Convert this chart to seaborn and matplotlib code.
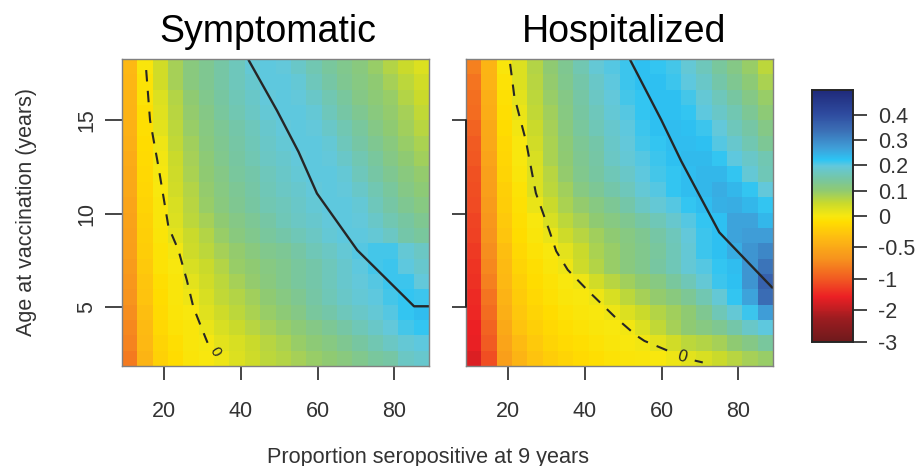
"""Symptomatic / Hospitalized heatmaps with contours and a shared non-linear colour bar."""
import matplotlib.pyplot as plt
import numpy as np
import seaborn as sns
from matplotlib.colors import FuncNorm, LinearSegmentedColormap

seropositive = [11, 15, 19, 23, 27, 31, 35, 39, 43, 47, 51, 55, 59, 63, 67, 71, 75, 79, 83, 87]
age_rows = [17.84, 17.02, 16.2, 15.38, 14.56, 13.74, 12.92, 12.1, 11.28, 10.46,
            9.64, 8.82, 8.0, 7.18, 6.36, 5.54, 4.72, 3.9, 3.08, 2.26]

symptomatic = [
    [-.38, -.03, .04, .08, .11, .13, .15, .17, .19, .20, .195, .18, .16, .14, .125, .11, .09, .07, .05, .03],
    [-.39, -.05, .04, .08, .11, .13, .15, .17, .185, .20, .20, .19, .17, .15, .13, .115, .10, .08, .06, .04],
    [-.40, -.06, .03, .07, .10, .125, .145, .165, .18, .195, .20, .195, .18, .16, .14, .12, .105, .09, .07, .05],
    [-.42, -.08, .025, .065, .095, .12, .14, .16, .175, .19, .20, .20, .19, .17, .15, .13, .11, .095, .08, .055],
    [-.44, -.09, .02, .06, .09, .115, .135, .155, .17, .185, .195, .20, .195, .18, .16, .14, .12, .10, .085, .065],
    [-.46, -.1, .01, .055, .085, .11, .13, .15, .165, .18, .19, .20, .20, .19, .17, .15, .13, .11, .09, .075],
    [-.48, -.12, .005, .05, .08, .105, .125, .145, .16, .175, .185, .195, .20, .195, .18, .16, .14, .12, .10, .085],
    [-.50, -.13, 0, .045, .075, .10, .12, .14, .155, .17, .18, .19, .20, .20, .19, .17, .15, .13, .11, .095],
    [-.52, -.15, -.005, .04, .07, .095, .115, .135, .15, .165, .175, .185, .195, .20, .195, .18, .16, .14, .12, .105],
    [-.54, -.17, -.02, .035, .065, .09, .11, .13, .145, .16, .17, .18, .19, .20, .20, .19, .17, .15, .13, .115],
    [-.56, -.18, -.03, .03, .06, .08, .10, .12, .135, .15, .165, .175, .185, .195, .20, .195, .18, .16, .145, .13],
    [-.58, -.2, -.04, .02, .05, .07, .09, .11, .125, .14, .155, .165, .175, .19, .20, .20, .19, .175, .155, .14],
    [-.60, -.22, -.05, .005, .045, .06, .08, .095, .11, .125, .135, .15, .165, .175, .19, .205, .21, .21, .19, .175],
    [-.62, -.25, -.06, -.01, .035, .05, .07, .09, .10, .115, .125, .14, .155, .17, .185, .20, .21, .215, .20, .185],
    [-.65, -.28, -.08, -.02, .02, .04, .06, .08, .095, .11, .125, .14, .155, .17, .185, .195, .205, .215, .215, .195],
    [-.68, -.3, -.1, -.03, .01, .035, .055, .07, .085, .10, .115, .13, .15, .165, .18, .19, .20, .21, .22, .215],
    [-.71, -.33, -.12, -.04, -.01, .025, .045, .06, .075, .09, .105, .12, .14, .155, .17, .18, .19, .205, .22, .23],
    [-.74, -.36, -.14, -.06, -.02, .015, .035, .05, .065, .08, .09, .105, .12, .135, .15, .165, .18, .195, .21, .22],
    [-.78, -.38, -.16, -.08, -.03, .0, .02, .035, .05, .065, .075, .09, .105, .115, .13, .145, .16, .175, .19, .20],
    [-.82, -.40, -.18, -.1, -.04, -.01, .01, .03, .045, .06, .07, .08, .09, .10, .11, .125, .14, .15, .175, .185],
]

hospitalized = [
    [-.8, -.4, -.03, .03, .07, .10, .13, .16, .19, .205, .215, .225, .22, .21, .19, .17, .14, .12, .09, .06],
    [-.85, -.42, -.05, .03, .065, .095, .125, .155, .18, .20, .215, .225, .225, .215, .20, .18, .155, .13, .105, .075],
    [-.88, -.45, -.07, .02, .06, .09, .12, .15, .175, .195, .21, .22, .225, .225, .21, .19, .17, .145, .12, .09],
    [-.9, -.47, -.09, .015, .055, .085, .115, .145, .17, .19, .205, .22, .225, .225, .22, .20, .18, .16, .135, .105],
    [-.95, -.5, -.11, .005, .05, .08, .11, .14, .165, .185, .20, .215, .225, .23, .225, .215, .195, .17, .15, .12],
    [-1, -.52, -.13, -.005, .04, .075, .105, .135, .155, .18, .195, .21, .22, .23, .23, .225, .205, .185, .16, .135],
    [-1.03, -.55, -.15, -.015, .035, .075, .10, .13, .15, .175, .19, .205, .215, .225, .235, .235, .22, .20, .18, .16],
    [-1.07, -.58, -.17, -.03, .03, .065, .095, .125, .145, .165, .18, .20, .21, .22, .23, .24, .24, .22, .19, .165],
    [-1.1, -.6, -.2, -.05, .03, .06, .085, .115, .135, .155, .17, .19, .205, .22, .23, .24, .25, .24, .22, .195],
    [-1.15, -.62, -.22, -.07, .015, .05, .075, .095, .115, .135, .155, .175, .19, .205, .22, .23, .245, .25, .24, .22],
    [-1.2, -.65, -.25, -.09, -.01, .035, .06, .08, .10, .115, .13, .15, .165, .185, .205, .22, .225, .26, .26, .24],
    [-1.25, -.68, -.28, -.11, -.03, .015, .045, .065, .085, .10, .115, .13, .15, .17, .195, .215, .225, .26, .27, .27],
    [-1.3, -.72, -.32, -.14, -.06, -.01, .02, .05, .075, .09, .11, .125, .14, .165, .19, .215, .225, .25, .28, .30],
    [-1.35, -.75, -.35, -.17, -.08, -.03, .01, .045, .07, .09, .11, .125, .145, .165, .19, .205, .22, .23, .28, .33],
    [-1.4, -.8, -.38, -.2, -.1, -.05, -.01, .01, .04, .065, .085, .10, .115, .14, .165, .19, .215, .225, .28, .36],
    [-1.45, -.85, -.42, -.23, -.13, -.07, -.03, -.005, .01, .035, .06, .08, .095, .11, .135, .16, .19, .22, .26, .34],
    [-1.5, -.9, -.46, -.26, -.16, -.1, -.05, -.02, -.005, .01, .03, .05, .07, .085, .10, .13, .165, .19, .215, .27],
    [-1.55, -.95, -.5, -.3, -.2, -.13, -.08, -.05, -.02, -.005, .005, .03, .055, .08, .10, .115, .13, .155, .18, .20],
    [-1.6, -1.0, -.55, -.35, -.24, -.17, -.12, -.08, -.05, -.03, -.01, .005, .02, .04, .06, .07, .08, .10, .12, .14],
    [-1.7, -1.1, -.6, -.4, -.3, -.22, -.17, -.12, -.09, -.06, -.04, -.02, -.005, .01, .02, .035, .05, .065, .08, .09],
]

# contour lines
sym_zero_x = [15.3, 16.3, 18.5, 21.1, 23.7, 25.9, 27.6, 30.7, 31.3]
sym_zero_y = [17.67, 15, 12.5, 9.3, 8.05, 6.44, 5.0, 3.4, 3.1]
sym_line_x = [42, 49.4, 55, 59.8, 70.3, 85.1, 89]
sym_line_y = [18.2, 15.5, 13.3, 11.08, 8.05, 5.05, 5.05]
hosp_zero_x = [20.5, 21.6, 24.6, 27.2, 30.7, 32.5, 35.5, 40.7, 47.7, 53.3, 55.5, 62.5]
hosp_zero_y = [18.0, 16.25, 13.9, 11.1, 9.1, 8, 7, 5.9, 4.5, 3.5, 3.2, 2.6]
hosp_zero_tail_x = [68.6, 70.7]
hosp_zero_tail_y = [2.15, 2.05]
hosp_line_x = [51.8, 59.9, 65.1, 75, 88.8]
hosp_line_y = [18.2, 15, 12.8, 9, 6.05]

cbar_ticks = [-3, -2, -1, -0.5, 0, 0.1, 0.2, 0.3, 0.4]
cbar_labels = ["-3", "-2", "-1", "-0.5", "0", "0.1", "0.2", "0.3", "0.4"]
scale_values = [-3, -2, -1, -0.5, 0, 0.1, 0.2, 0.3, 0.4, 0.5]
scale_pos = [0, 0.127, 0.25, 0.377, 0.5, 0.6, 0.702, 0.802, 0.9, 1.0]

X_EDGE = 9.0
X_STEP = 4.0
Y_TOP = 18.26
Y_STEP = 0.82
DARK = "#262626"
GREY = "#808080"
TEXT = "#333333"


def cell_x(v):
    return (np.asarray(v) - X_EDGE) / X_STEP


def cell_y(v):
    return (Y_TOP - np.asarray(v)) / Y_STEP


def px_axes(fig, left, top, right, bottom):
    W, H = 916, 466
    return fig.add_axes([left / W, 1 - bottom / H, (right - left) / W, (bottom - top) / H])


sns.set_theme(style="white")
plt.rcParams["font.family"] = ["Liberation Sans", "DejaVu Sans"]

cmap = LinearSegmentedColormap.from_list("risk", [
    (0.0, "#6e1a1c"), (0.09, "#9c1c20"), (0.18, "#ec2024"), (0.25, "#f15a22"),
    (0.33, "#f7941d"), (0.41, "#fdb913"), (0.476, "#ffdd00"), (0.5, "#f7e80f"),
    (0.55, "#c9da2c"), (0.60, "#8fca72"), (0.65, "#76c6a4"), (0.70, "#62c8dc"),
    (0.725, "#2cc4f4"), (0.77, "#3f9fd8"), (0.84, "#3b6eb5"), (0.91, "#2e4a9e"),
    (1.0, "#1f2a7a"),
])
norm = FuncNorm(
    (lambda v: np.interp(v, scale_values, scale_pos),
     lambda p: np.interp(p, scale_pos, scale_values)),
    vmin=-3, vmax=0.5,
)

fig = plt.figure(figsize=(9.16, 4.66), dpi=100)
ax_sym = px_axes(fig, 122, 59, 429, 366)
ax_hosp = px_axes(fig, 466, 59, 773, 366)
ax_cbar = px_axes(fig, 812, 90, 853, 342)

sns.heatmap(np.array(symptomatic), ax=ax_sym, cmap=cmap, norm=norm, cbar=True, cbar_ax=ax_cbar,
            xticklabels=False, yticklabels=False)
sns.heatmap(np.array(hospitalized), ax=ax_hosp, cmap=cmap, norm=norm, cbar=False,
            xticklabels=False, yticklabels=False)

for ax, title, title_x in [(ax_sym, "Symptomatic", 0.476), (ax_hosp, "Hospitalized", 0.515)]:
    ax.set_title(title, fontsize=27, color="black", pad=12, x=title_x)
    ax.set_xticks(cell_x([20, 40, 60, 80]), ["20", "40", "60", "80"])
    ax.set_yticks(cell_y([5, 10, 15]))
    ax.tick_params(axis="x", length=10, width=1.2, color=DARK, labelsize=15.5, labelcolor=TEXT, pad=15, bottom=True)
    for spine in ax.spines.values():
        spine.set_visible(True)
        spine.set_color(GREY)
        spine.set_linewidth(1.0)

ax_sym.tick_params(axis="y", length=12, width=1.2, color=DARK, pad=6, left=True)
ax_sym.set_yticklabels(["5", "10", "15"], rotation=90, va="center", fontsize=15.5, color=TEXT)
ax_sym.set_ylabel("Age at vaccination (years)", fontsize=15.5, color=TEXT, labelpad=28)
ax_hosp.tick_params(axis="y", length=10, width=1.2, color=DARK, left=True)
ax_hosp.set_yticklabels([])
ax_hosp.plot([0, 0], cell_y([5, 15]), color=DARK, lw=1.4, clip_on=False, zorder=5)

line_kw = dict(color=DARK, lw=1.7)
dash_kw = dict(color=DARK, lw=1.5, dashes=(5.5, 4.5))
ax_sym.plot(cell_x(sym_zero_x), cell_y(sym_zero_y), **dash_kw)
ax_sym.plot(cell_x(sym_line_x), cell_y(sym_line_y), **line_kw)
ax_hosp.plot(cell_x(hosp_zero_x), cell_y(hosp_zero_y), **dash_kw)
ax_hosp.plot(cell_x(hosp_zero_tail_x), cell_y(hosp_zero_tail_y), **dash_kw)
ax_hosp.plot(cell_x(hosp_line_x), cell_y(hosp_line_y), **line_kw)
ax_sym.text(cell_x(33.3), cell_y(2.6), "0", fontsize=11, rotation=-60, color=DARK, ha="center", va="center")
ax_hosp.text(cell_x(65.4), cell_y(2.35), "0", fontsize=12, rotation=-15, color=DARK, ha="center", va="center")

ax_cbar.set_yticks(cbar_ticks, cbar_labels)
ax_cbar.minorticks_off()
ax_cbar.tick_params(axis="y", length=10, width=1.2, color=DARK, labelsize=15.5, labelcolor=TEXT, pad=8, right=True)
for spine in ax_cbar.spines.values():
    spine.set_visible(True)
    spine.set_color(DARK)
    spine.set_linewidth(1.2)

fig.text(428 / 916, 1 - 457 / 466, "Proportion seropositive at 9 years", fontsize=15.6, color=TEXT,
         ha="center", va="center")

fig.savefig("out.png", dpi=100)
